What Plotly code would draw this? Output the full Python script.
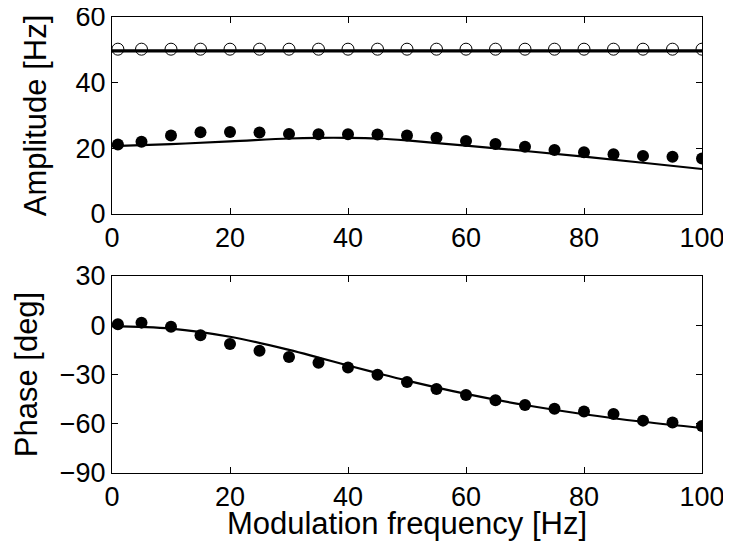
import plotly.graph_objects as go
from plotly.subplots import make_subplots

# Modulation frequencies (Hz) of the measured points
freq = [1, 5, 10, 15, 20, 25, 30, 35, 40, 45, 50, 55, 60, 65, 70, 75, 80, 85, 90, 95, 100]

# Amplitude panel
amp_open = [50.2] * len(freq)
amp_filled = [21.2, 22.0, 23.9, 24.9, 25.0, 24.8, 24.4, 24.3, 24.3, 24.2, 23.9,
              23.2, 22.2, 21.3, 20.5, 19.5, 18.8, 18.2, 17.7, 17.4, 16.9]
line_freq = [0, 10, 20, 30, 35, 40, 45, 50, 60, 70, 80, 90, 100]
amp_line_flat = [49.7] * len(line_freq)
amp_line = [20.7, 21.3, 22.1, 23.0, 23.2, 23.2, 23.0, 22.4, 20.8, 19.2, 17.5, 15.6, 13.7]

# Phase panel
phase_filled = [0.6, 1.6, -0.9, -6.1, -11.4, -15.5, -19.3, -22.8, -25.8, -30.1, -34.6,
                -38.8, -42.5, -45.7, -48.6, -50.8, -52.6, -54.0, -58.1, -59.3, -61.4]
phase_line = [-0.5, -2.0, -7.0, -15.0, -19.7, -24.5, -29.2, -33.7, -41.8, -48.6, -54.2, -58.8, -62.6]

x_ticks = [0, 20, 40, 60, 80, 100]
amp_ticks = [0, 20, 40, 60]
phase_ticks = [-90, -60, -30, 0, 30]

FONT = "Liberation Sans, Arial, Helvetica, sans-serif"

fig = make_subplots(rows=2, cols=1, vertical_spacing=0.136)

fig.add_trace(go.Scatter(x=line_freq, y=amp_line_flat, mode="lines",
                         line=dict(color="black", width=3.2)), row=1, col=1)
fig.add_trace(go.Scatter(x=freq, y=amp_open, mode="markers",
                         marker=dict(symbol="circle-open", size=12, color="black",
                                     line=dict(width=1))), row=1, col=1)
fig.add_trace(go.Scatter(x=line_freq, y=amp_line, mode="lines", line_shape="spline",
                         line=dict(color="black", width=2.2)), row=1, col=1)
fig.add_trace(go.Scatter(x=freq, y=amp_filled, mode="markers",
                         marker=dict(symbol="circle", size=12, color="black")), row=1, col=1)

fig.add_trace(go.Scatter(x=line_freq, y=phase_line, mode="lines", line_shape="spline",
                         line=dict(color="black", width=2.2)), row=2, col=1)
fig.add_trace(go.Scatter(x=freq, y=phase_filled, mode="markers",
                         marker=dict(symbol="circle", size=12, color="black")), row=2, col=1)

axis_common = dict(showline=True, linecolor="black", linewidth=1, mirror="ticks",
                   ticks="inside", ticklen=6, tickcolor="black", tickwidth=1,
                   showgrid=False, zeroline=False, ticklabeloverflow="allow",
                   tickfont=dict(family=FONT, size=27, color="black"))

fig.update_xaxes(range=[0, 100], tickvals=x_ticks, **axis_common)
fig.update_yaxes(**axis_common)
fig.update_yaxes(range=[0, 60], tickvals=amp_ticks, row=1, col=1,
                 title=dict(text="Amplitude [Hz]", standoff=19,
                            font=dict(family=FONT, size=31, color="black")))
fig.update_yaxes(range=[-90, 30], tickvals=phase_ticks, row=2, col=1,
                 title=dict(text="Phase [deg]", standoff=12,
                            font=dict(family=FONT, size=31, color="black")))
fig.update_xaxes(row=2, col=1,
                 title=dict(text="Modulation frequency [Hz]", standoff=0,
                            font=dict(family=FONT, size=31, color="black")))

# page body has an 8px margin, so the figure starts at (8, 8)
fig.update_layout(
    width=723, height=533,
    margin=dict(l=104, r=29, t=9, b=68, autoexpand=False),
    paper_bgcolor="white", plot_bgcolor="white",
    showlegend=False,
)
fig.layout.yaxis.domain = [0.568, 1.0]
fig.layout.yaxis2.domain = [0.0, 0.432]

fig.write_html("out.html")
